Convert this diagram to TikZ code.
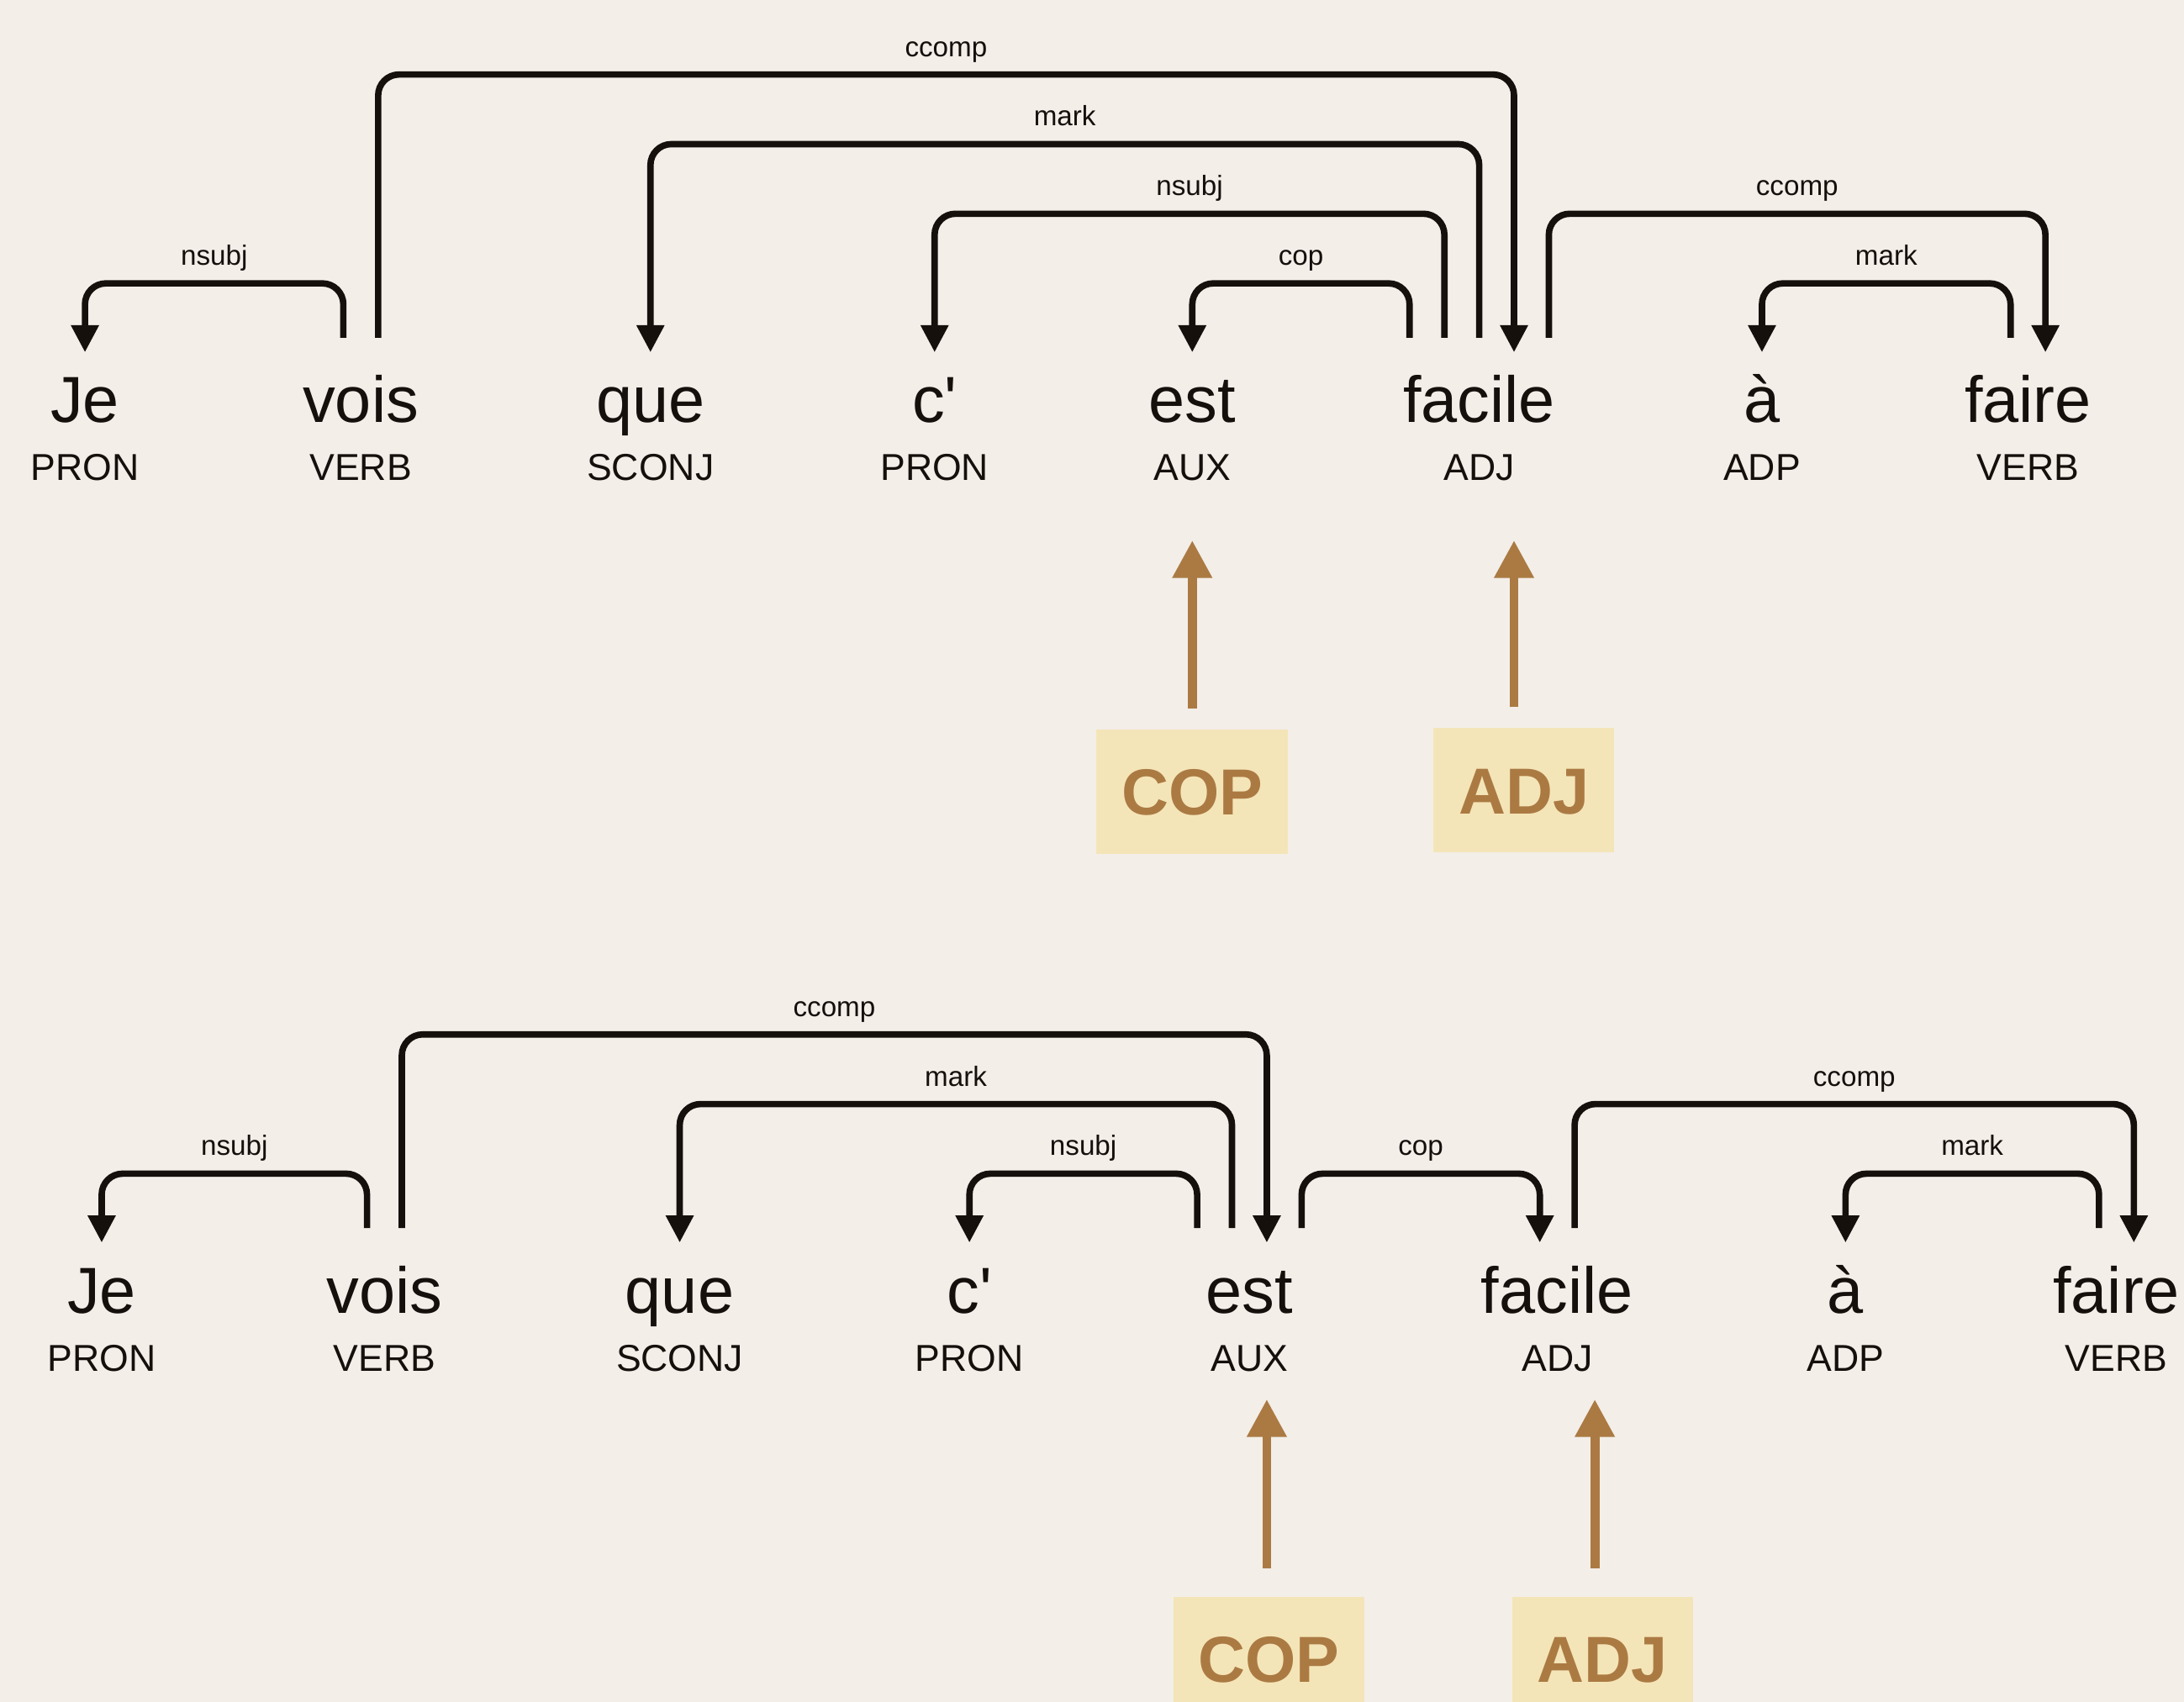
\documentclass[tikz,border=0pt]{standalone}
\usepackage{fontspec}
\setmainfont{Liberation Sans}[Ligatures=TeXOff]
\usepackage{tikz}
\usetikzlibrary{arrows.meta, calc}

\definecolor{paper}{HTML}{F3EEE8}
\definecolor{ink}{HTML}{15100C}
\definecolor{ochre}{HTML}{AB7A43}
\definecolor{sand}{HTML}{F4E5B8}

% head word, x shift, dependent word, x shift, level, relation
\newcommand\deparc[6]{%
  \draw[dep] ($(#1.base)+(#2,-61)$) |- ($(#3.base)+(#4,{-50-50*#5})$)
    node[arclabel] {#6} -- ($(#3.base)+(#4,-50.5)$);}

\begin{document}
\begin{tikzpicture}[x=0.01cm, y=-0.01cm,
  word/.style={anchor=base, inner sep=0, text=ink, font=\fontsize{13.3}{16}\selectfont},
  postag/.style={anchor=base, inner sep=0, text=ink, font=\fontsize{7.65}{9}\selectfont},
  dep/.style={draw=ink, line width=0.46mm, rounded corners=1.5mm,
    -{Triangle[length=1.95mm, width=1.9mm]}},
  arclabel/.style={pos=0.75, anchor=base, yshift=1.3mm, inner sep=0,
    text=ink, font=\fontsize{5.7}{7}\selectfont},
  tagbox/.style={fill=sand, text=ochre, inner xsep=1.8mm, inner ysep=0,
    minimum height=8.9mm, text height=3.35mm, text depth=0pt,
    font=\bfseries\fontsize{13.3}{16}\selectfont},
  tagarrow/.style={draw=ochre, line width=0.65mm,
    -{Triangle[length=2.7mm, width=2.7mm]}}]
\useasboundingbox (0,0) rectangle (1568,1222);
\fill[paper] (0,0) rectangle (1568,1222);
\clip (0,0) rectangle (1568,1222);

% first parse: facile is the head
\foreach \n/\w/\t/\x in {je/Je/PRON/61, vois/vois/VERB/259, que/que/SCONJ/467,
    c/c'/PRON/671, est/est/AUX/856, facile/facile/ADJ/1062, a/à/ADP/1265,
    faire/faire/VERB/1456}{
  \node[word] (\n1) at (\x,303.5) {\w};
  \node[postag] (\n1t) at (\x,344.7) {\t};
}
\deparc{vois1}{-12.5}{je1}{0}{1}{nsubj}
\deparc{vois1}{12.5}{facile1}{25}{4}{ccomp}
\deparc{facile1}{0}{que1}{0}{3}{mark}
\deparc{facile1}{-25}{c1}{0}{2}{nsubj}
\deparc{facile1}{-50}{est1}{0}{1}{cop}
\deparc{facile1}{50}{faire1}{12.5}{2}{ccomp}
\deparc{faire1}{-12.5}{a1}{0}{1}{mark}

\node[tagbox] (cop1) at (856,568.5) {COP};
\node[tagbox] (adj1) at (1094,567.5) {ADJ};
\draw[tagarrow] ($(cop1.north -| est1.base)+(0,-14.5)$) -- ($(est1.base)+(0,84.5)$);
\draw[tagarrow] ($(adj1.north -| facile1.base)+(25,-14.5)$) -- ($(facile1.base)+(25,84.5)$);

% second parse: est is the head
\foreach \n/\w/\t/\x in {je/Je/PRON/73, vois/vois/VERB/276, que/que/SCONJ/488,
    c/c'/PRON/696, est/est/AUX/897, facile/facile/ADJ/1118, a/à/ADP/1325,
    faire/faire/VERB/1519.5}{
  \node[word] (\n2) at (\x,942.8) {\w};
  \node[postag] (\n2t) at (\x,984.5) {\t};
}
\deparc{vois2}{-12.5}{je2}{0}{1}{nsubj}
\deparc{vois2}{12.5}{est2}{12.5}{3}{ccomp}
\deparc{est2}{-12.5}{que2}{0}{2}{mark}
\deparc{est2}{-37.5}{c2}{0}{1}{nsubj}
\deparc{est2}{37.5}{facile2}{-12.5}{1}{cop}
\deparc{facile2}{12.5}{faire2}{12.5}{2}{ccomp}
\deparc{faire2}{-12.5}{a2}{0}{1}{mark}

\node[tagbox] (cop2) at (911,1191) {COP};
\node[tagbox] (adj2) at (1150.5,1191) {ADJ};
\draw[tagarrow] ($(cop2.north -| est2.base)+(12.5,-19.5)$) -- ($(est2.base)+(12.5,62)$);
\draw[tagarrow] ($(adj2.north -| facile2.base)+(27,-19.5)$) -- ($(facile2.base)+(27,62)$);
\end{tikzpicture}
\end{document}
